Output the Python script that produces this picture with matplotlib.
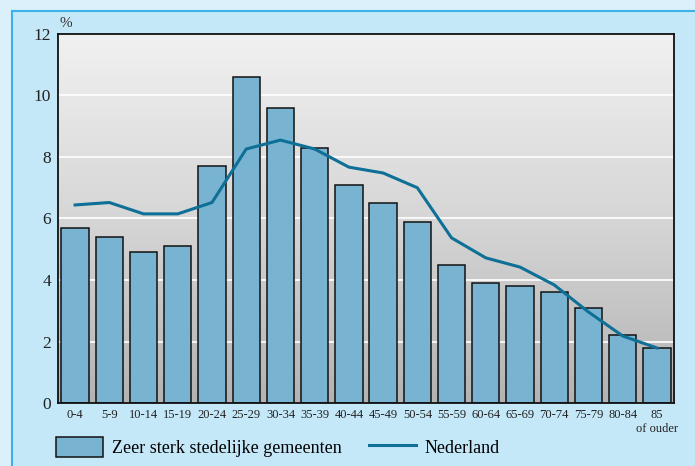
import numpy as np
import matplotlib
matplotlib.use('Agg')
import matplotlib.pyplot as plt
from matplotlib.patches import Rectangle
from matplotlib.lines import Line2D

plt.rcParams['font.family'] = ['Liberation Serif', 'DejaVu Serif']

age_groups = ['0-4', '5-9', '10-14', '15-19', '20-24', '25-29', '30-34', '35-39',
              '40-44', '45-49', '50-54', '55-59', '60-64', '65-69', '70-74',
              '75-79', '80-84', '85\nof ouder']
stedelijk = [5.7, 5.4, 4.9, 5.1, 7.7, 10.6, 9.6, 8.3, 7.1, 6.5, 5.9, 4.5,
             3.9, 3.8, 3.6, 3.1, 2.2, 1.8]
nederland = [6.44, 6.52, 6.15, 6.15, 6.52, 8.26, 8.55, 8.26, 7.67, 7.48, 7.0,
             5.37, 4.72, 4.42, 3.84, 2.96, 2.18, 1.79]
y_ticks = [0, 2, 4, 6, 8, 10, 12]

W, H = 695, 466
fig = plt.figure(figsize=(W / 100, H / 100), dpi=100, facecolor='#dcf0fb')

# inner light-blue panel with border on left/top
fig.add_artist(Rectangle((12 / W, 0), 1, 1 - 11 / H, transform=fig.transFigure,
                         facecolor='#c5e8f8', edgecolor='none', zorder=0))
fig.add_artist(Line2D([12 / W, 12 / W], [0, 1 - 11 / H], transform=fig.transFigure,
                      color='#3ab4e8', lw=1.5, zorder=1))
fig.add_artist(Line2D([12 / W, 1], [1 - 11 / H, 1 - 11 / H], transform=fig.transFigure,
                      color='#3ab4e8', lw=1.5, zorder=1))

ax = fig.add_axes([58 / W, (H - 403) / H, 616 / W, 369 / H])
ax.set_facecolor('none')

# grey gradient background
grad = np.linspace(0, 1, 256).reshape(-1, 1)
ax.imshow(grad, cmap=matplotlib.colors.LinearSegmentedColormap.from_list(
    'g', ['#f1f1f1', '#d6d6d6', '#b3b3b3']),
    extent=[0, 1, 0, 1], transform=ax.transAxes, aspect='auto', zorder=0)

x = np.arange(len(age_groups))
for t in y_ticks[1:-1]:
    ax.axhline(t, color='white', lw=1.2, zorder=1)

bars = ax.bar(x, stedelijk, width=0.8, color='#78b4d2', edgecolor='#111111',
              linewidth=1.1, zorder=2)
line, = ax.plot(x, nederland, color='#0e6f97', lw=2.2, zorder=3)

ax.set_xlim(-0.5, len(age_groups) - 0.5)
ax.set_ylim(0, 12)
ax.set_yticks(y_ticks)
ax.set_yticklabels([str(t) for t in y_ticks], fontsize=12.5, color='#222222')
ax.set_xticks(x)
ax.set_xticklabels(age_groups, fontsize=9, color='#222222', linespacing=1.3,
                   va='top')
ax.tick_params(axis='both', length=0)
ax.tick_params(axis='y', pad=5)
ax.tick_params(axis='x', pad=4)
for s in ax.spines.values():
    s.set_color('#111111')
    s.set_linewidth(1.3)
    s.set_zorder(4)

ax.text(0.003, 1.012, '%', transform=ax.transAxes, fontsize=11,
        color='#333333', ha='left', va='bottom')

ax.legend([bars, line], ['Zeer sterk stedelijke gemeenten', 'Nederland'],
          loc='upper left', bbox_to_anchor=(-0.003, -0.093), ncol=2,
          frameon=False, fontsize=13, handlelength=2.6, handleheight=1.3,
          handletextpad=0.5, columnspacing=1.5, borderaxespad=0,
          borderpad=0)

fig.savefig('out.png', dpi=100, facecolor=fig.get_facecolor())
